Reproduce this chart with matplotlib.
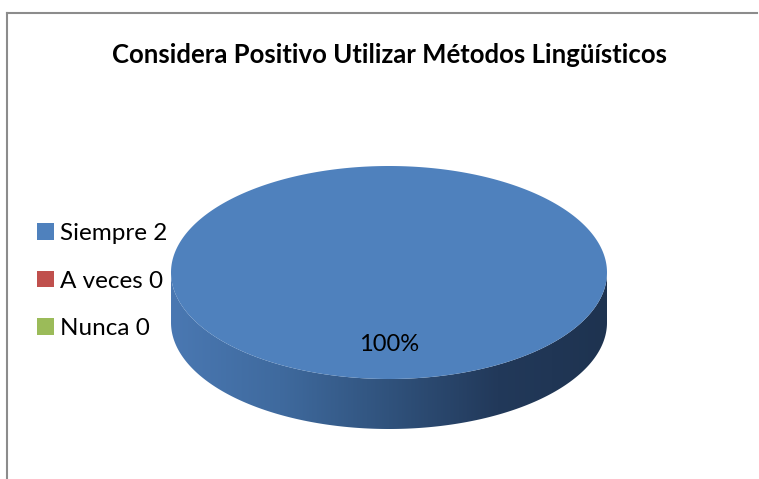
import numpy as np
import matplotlib
matplotlib.use("Agg")
import matplotlib.pyplot as plt
from matplotlib.patches import Polygon, Rectangle
from matplotlib.colors import LinearSegmentedColormap

plt.rcParams['font.family'] = ['Lato', 'DejaVu Sans']

title = "Considera Positivo Utilizar Métodos Lingüísticos"
categories = ["Siempre", "A veces", "Nunca"]
values = [2, 0, 0]
colors = ["#4f81bd", "#c0504d", "#9bbb59"]

# pie geometry in pixels
cx, cy = 389, 272.5
rx, ry = 218, 106.5
depth = 50

fig = plt.figure(figsize=(7.59, 4.79), dpi=100)
ax = fig.add_axes([0, 0, 1, 1])
ax.set_xlim(0, 759)
ax.set_ylim(479, 0)
ax.axis("off")

# chart frame (top and left edges visible)
ax.plot([7, 757], [13, 13], color="#8c8c8c", lw=1.5)
ax.plot([7, 7], [13, 479], color="#8c8c8c", lw=1.5)

ax.text(389, 55, title, ha="center", va="center", fontsize=18.5, fontweight="bold")

total = sum(values)
start = 90.0
side_cmap = LinearSegmentedColormap.from_list(
    "side", ["#4a78b2", "#3f6a9e", "#30527c", "#22395a", "#1e3350"])

for cat, v, c in zip(categories, values, colors):
    if v == 0:
        continue
    sweep = 360.0 * v / total
    t = np.radians(np.linspace(start, start - sweep, 400))
    # side wall: visible front half of the slice
    tf = np.radians(np.linspace(180, 360, 400))
    top_x = cx + rx * np.cos(tf)
    top_y = cy - ry * np.sin(tf)
    xs = np.concatenate([top_x, top_x[::-1]])
    ys = np.concatenate([top_y, top_y[::-1] + depth])
    side = Polygon(np.column_stack([xs, ys]), closed=True, facecolor="none", edgecolor="none")
    ax.add_patch(side)
    grad = np.linspace(0, 1, 256).reshape(1, -1)
    im = ax.imshow(grad, cmap=side_cmap, aspect="auto",
                   extent=[cx - rx, cx + rx, cy + ry + depth, cy - 5], zorder=1)
    im.set_clip_path(side)
    # top face
    px = np.concatenate([[cx], cx + rx * np.cos(t)])
    py = np.concatenate([[cy], cy - ry * np.sin(t)])
    ax.add_patch(Polygon(np.column_stack([px, py]), closed=True, facecolor=c,
                         edgecolor="none", zorder=2))
    mid = np.radians(start - sweep / 2)
    pct = "{:.0f}%".format(100.0 * v / total)
    if sweep >= 359.9:
        lx, ly = cx, cy + ry * 0.68
    else:
        lx, ly = cx + 0.6 * rx * np.cos(mid), cy - 0.6 * ry * np.sin(mid)
    ax.text(lx, ly, pct, ha="center", va="center", fontsize=17, zorder=3)
    start -= sweep

handles = [Rectangle((0, 0), 1, 1, facecolor=c, edgecolor="none") for c in colors]
labels = ["{} {}".format(cat, v) for cat, v in zip(categories, values)]
ax.legend(handles, labels, loc="center left", bbox_to_anchor=(37 / 759, 1 - 281 / 479),
          frameon=False, fontsize=17.5, handlelength=0.68, handleheight=0.68,
          handletextpad=0.25, labelspacing=1.08, borderpad=0, borderaxespad=0)

fig.savefig("out.png", dpi=100)
